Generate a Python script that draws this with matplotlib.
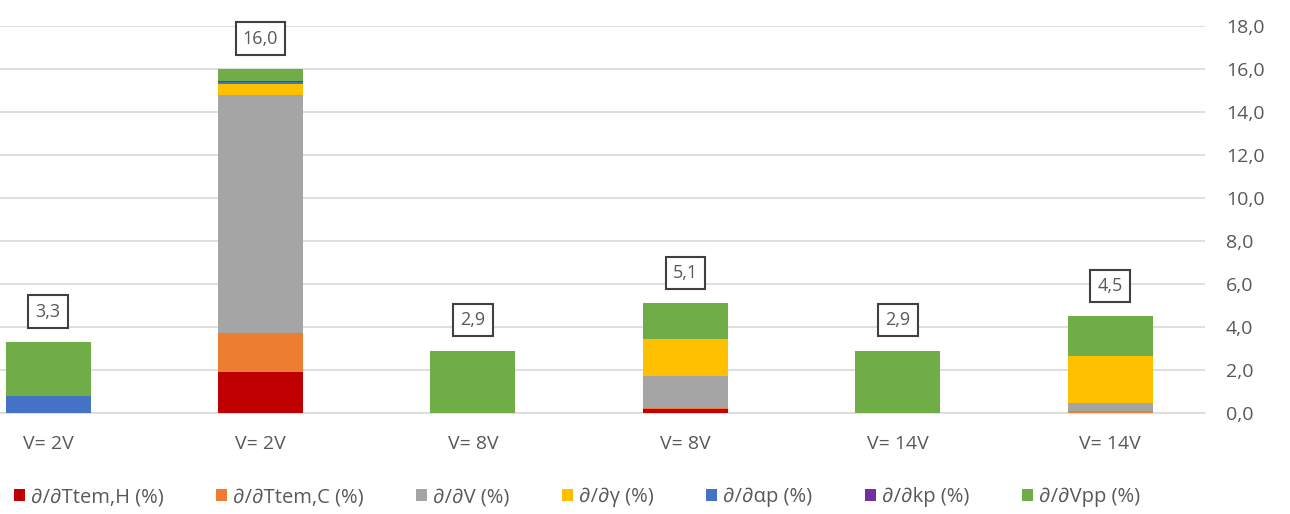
import matplotlib
matplotlib.use('Agg')
import matplotlib.pyplot as plt
import numpy as np

categories = ['V= 2V', 'V= 2V', 'V= 8V', 'V= 8V', 'V= 14V', 'V= 14V']

# contributions per component (%)
d_ttem_h = [0.0, 1.9, 0.0, 0.2, 0.0, 0.0]
d_ttem_c = [0.0, 1.8, 0.0, 0.05, 0.0, 0.1]
d_v = [0.0, 11.1, 0.0, 1.45, 0.0, 0.35]
d_gamma = [0.0, 0.5, 0.0, 1.75, 0.0, 2.2]
d_ap = [0.8, 0.1, 0.0, 0.0, 0.0, 0.0]
d_kp = [0.0, 0.05, 0.0, 0.0, 0.0, 0.0]
d_vpp = [2.5, 0.55, 2.9, 1.65, 2.9, 1.85]

series_names = ['∂/∂Ttem,H (%)', '∂/∂Ttem,C (%)', '∂/∂V (%)', '∂/∂γ (%)',
                '∂/∂αp (%)', '∂/∂kp (%)', '∂/∂Vpp (%)']
series_values = [d_ttem_h, d_ttem_c, d_v, d_gamma, d_ap, d_kp, d_vpp]
colors = ['#C00000', '#ED7D31', '#A5A5A5', '#FFC000', '#4472C4', '#7030A0', '#70AD47']

plt.rcParams['font.family'] = ['Open Sans', 'DejaVu Sans']
text_color = '#595959'
grid_color = '#D9D9D9'

fig = plt.figure(figsize=(12.9, 5.14), dpi=100)
ax = fig.add_axes([0.0, 0.1965, 0.934, 0.7525])

x = np.arange(len(categories))
bottom = np.zeros(len(categories))
handles = []
for name, vals, col in zip(series_names, series_values, colors):
    b = ax.bar(x, vals, width=0.4, bottom=bottom, color=col, label=name, zorder=3)
    handles.append(b)
    bottom += np.array(vals)

# total labels in boxes
for xi, tot in zip(x, bottom):
    ax.annotate(f'{tot:.1f}'.replace('.', ','), xy=(xi, tot), xytext=(0, 22),
                textcoords='offset points', ha='center', va='center',
                fontsize=13, color=text_color, annotation_clip=False,
                bbox=dict(boxstyle='square,pad=0.4', fc='white', ec='#404040', lw=1.5))

ax.set_xlim(-0.226, 5.445)
ax.set_ylim(0, 18)
ax.set_yticks(np.arange(0, 19, 2))
ax.set_yticklabels([f'{v:.1f}'.replace('.', ',') for v in np.arange(0, 19, 2)])
ax.yaxis.tick_right()
ax.set_xticks(x)
ax.set_xticklabels(categories)
ax.tick_params(axis='both', length=0, colors=text_color, labelsize=14)
ax.tick_params(axis='x', pad=16)
ax.tick_params(axis='y', pad=15)
ax.grid(axis='y', color=grid_color, lw=1.2, zorder=0)
for s in ['top', 'left', 'right']:
    ax.spines[s].set_visible(False)
ax.spines['bottom'].set_color(grid_color)
ax.spines['bottom'].set_linewidth(1.2)

leg = fig.legend(handles=handles, loc='center', bbox_to_anchor=(577 / 1290, 17 / 514),
                 ncol=7, frameon=False, fontsize=14.5, handlelength=0.55, handleheight=0.55,
                 handletextpad=0.3, columnspacing=2.6)
for t in leg.get_texts():
    t.set_color(text_color)

fig.savefig('out.png', dpi=100)
